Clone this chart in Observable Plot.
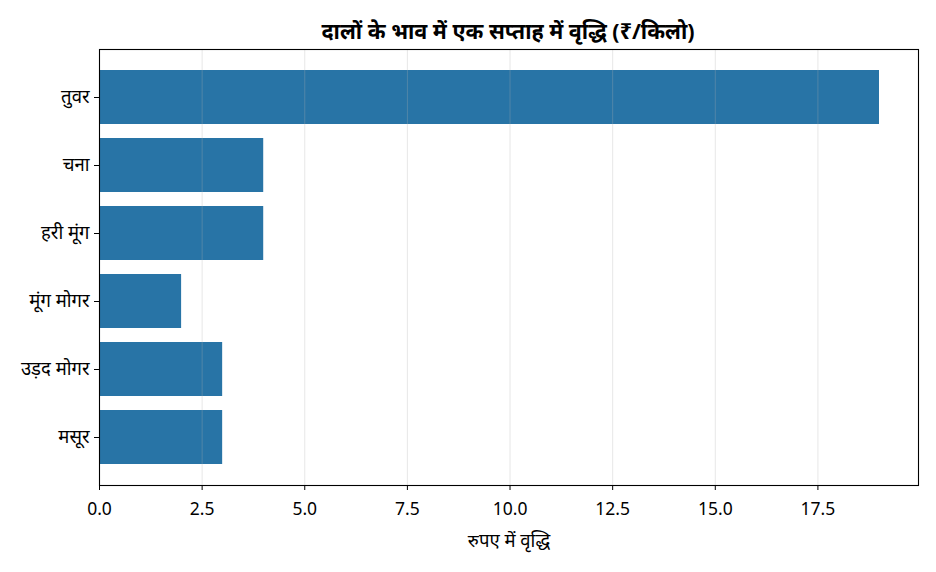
<!DOCTYPE html>
<html><head><meta charset="utf-8">
<script src="https://cdn.jsdelivr.net/npm/d3@7"></script>
<script src="https://cdn.jsdelivr.net/npm/@observablehq/plot@0.6"></script>
<style>
body{margin:0;background:#fff;font-family:"Noto Sans","Noto Sans Devanagari",sans-serif;}
#title{width:936px;height:40px;position:relative;}
#title span{position:absolute;left:508px;top:20px;transform:translateX(-50%);font-weight:bold;font-size:21.5px;white-space:nowrap;line-height:1;}
</style></head>
<body>
<div id="title"><span>दालों के भाव में एक सप्ताह में वृद्धि (₹/किलो)</span></div>
<div id="chart"></div>
<script>
const categories = ["तुवर", "चना", "हरी मूंग", "मूंग मोगर", "उड़द मोगर", "मसूर"];
const increases = [19, 4, 4, 2, 3, 3];
const xTicks = [0, 2.5, 5, 7.5, 10, 12.5, 15, 17.5];
const xLabel = "रुपए में वृद्धि";

const data = categories.map((c, i) => ({name: c, value: increases[i]}));

const chart = Plot.plot({
  width: 936,
  height: 532,
  marginLeft: 99,
  marginRight: 18,
  marginTop: 9,
  marginBottom: 87,
  style: {fontFamily: '"Noto Sans","Noto Sans Devanagari",sans-serif', fontSize: "17.5px", color: "black", background: "white"},
  x: {domain: [0, 19.95]},
  y: {domain: categories, paddingInner: 0.2, paddingOuter: 0.29},
  marks: [
    Plot.barX(data, {x: "value", y: "name", fill: "#2874a6"}),
    Plot.gridX(xTicks, {stroke: "#b0b0b0", strokeOpacity: 0.3, strokeWidth: 1}),
    Plot.axisX(xTicks, {tickSize: 5, tickPadding: 12, tickFormat: d3.format(".1f"), label: null, fontSize: 17.5}),
    Plot.text([xLabel], {frameAnchor: "bottom", lineAnchor: "middle", dy: 56, fontSize: 18.5, fill: "black"}),
    Plot.axisY({tickSize: 5, tickPadding: 5, label: null, fontSize: 18.5}),
    Plot.frame({stroke: "black", strokeWidth: 1.1})
  ]
});
document.getElementById("chart").appendChild(chart);
</script>
</body></html>
